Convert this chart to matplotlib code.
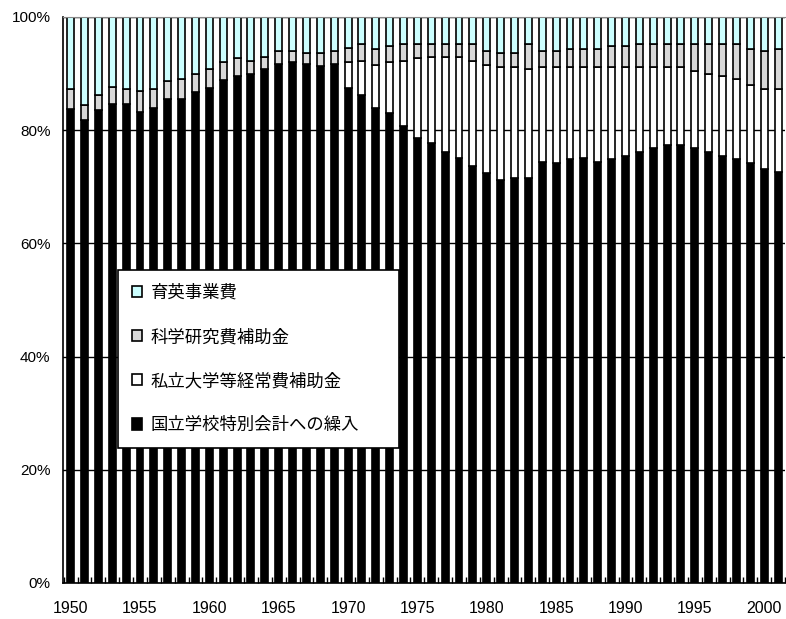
import numpy as np
import matplotlib
matplotlib.use("Agg")
import matplotlib.pyplot as plt
from matplotlib.ticker import FixedLocator

plt.rcParams['font.family'] = ['Liberation Sans', 'Noto Sans CJK JP', 'DejaVu Sans']

years = np.arange(1950, 2002)

# share of each item (%)
kokuritsu = [83.7, 81.8, 83.6, 84.6, 84.6, 83.2, 84.0, 85.6, 85.6, 86.8,
             87.4, 88.9, 89.6, 89.9, 90.9, 91.7, 92.0, 91.7, 91.3, 91.7,
             87.4, 86.3, 83.9, 83.0, 80.8, 78.7, 77.7, 76.2, 75.1, 73.7,
             72.4, 71.2, 71.6, 71.6, 74.4, 74.2, 74.9, 75.1, 74.4, 74.9,
             75.5, 76.2, 76.9, 77.3, 77.3, 76.9, 76.2, 75.5, 74.9, 74.2,
             73.1, 72.7]
shiritsu = [0, 0, 0, 0, 0, 0, 0, 0, 0, 0,
            0, 0, 0, 0, 0, 0, 0, 0, 0, 0,
            4.6, 5.9, 7.6, 9.0, 11.4, 14.0, 15.3, 16.8, 17.9, 18.6,
            19.1, 20.0, 19.6, 19.3, 16.8, 17.0, 16.3, 16.1, 16.8, 16.3,
            15.7, 15.0, 14.3, 13.9, 13.9, 13.6, 13.7, 14.0, 14.1, 13.8,
            14.2, 14.6]
kaken = [3.5, 2.7, 2.6, 3.1, 2.7, 3.8, 3.3, 3.1, 3.4, 3.1,
         3.5, 3.1, 3.1, 2.3, 2.1, 2.3, 2.0, 2.0, 2.4, 2.3,
         2.5, 3.0, 2.8, 2.9, 3.0, 2.5, 2.2, 2.2, 2.2, 2.9,
         2.5, 2.5, 2.5, 4.3, 2.8, 2.8, 3.1, 3.1, 3.1, 3.6,
         3.6, 4.0, 4.0, 4.0, 4.0, 4.7, 5.3, 5.7, 6.2, 6.3,
         6.7, 7.0]
ikuei = [12.8, 15.5, 13.8, 12.3, 12.7, 13.0, 12.7, 11.3, 11.0, 10.1,
         9.1, 8.0, 7.3, 7.8, 7.0, 6.0, 6.0, 6.3, 6.3, 6.0,
         5.5, 4.8, 5.7, 5.1, 4.8, 4.8, 4.8, 4.8, 4.8, 4.8,
         6.0, 6.3, 6.3, 4.8, 6.0, 6.0, 5.7, 5.7, 5.7, 5.2,
         5.2, 4.8, 4.8, 4.8, 4.8, 4.8, 4.8, 4.8, 4.8, 5.7,
         6.0, 5.7]

labels = ['国立学校特別会計への繰入', '私立大学等経常費補助金',
          '科学研究費補助金', '育英事業費']
colors = ['black', 'white', '#d8d8d8', '#ccffff']

data = np.array([kokuritsu, shiritsu, kaken, ikuei], dtype=float)
data = data / data.sum(axis=0) * 100

fig = plt.figure(figsize=(7.86, 6.19), dpi=100)
ax = fig.add_axes([63 / 786, 36 / 619, 722 / 786, 566 / 619])

bottom = np.zeros(len(years))
handles = []
for vals, lab, col in zip(data, labels, colors):
    h = ax.bar(years, vals, bottom=bottom, width=0.5, color=col,
               edgecolor='black', linewidth=1.2, label=lab)
    handles.append(h)
    bottom += vals

ax.set_xlim(1949.45, 2001.5)
ax.set_ylim(0, 100)
ax.set_yticks(np.arange(0, 101, 20))
ax.set_yticklabels([f'{v}%' for v in range(0, 101, 20)], fontsize=11)
ax.set_xticks(np.arange(1950, 2001, 5))
ax.set_xticklabels([str(y) for y in range(1950, 2001, 5)], fontsize=11.5)
ax.xaxis.set_minor_locator(FixedLocator(np.arange(1949.5, 2002, 1)))
ax.tick_params(axis='x', which='major', length=0, pad=13)
ax.tick_params(axis='x', which='minor', length=4, direction='in', width=1)
ax.tick_params(axis='y', length=0, pad=9)

ax.yaxis.grid(True, color='black', linewidth=1)
ax.set_axisbelow(True)
for s in ['left', 'bottom']:
    ax.spines[s].set_color('black')
    ax.spines[s].set_linewidth(1.2)
ax.spines['top'].set_color('#888888')
ax.spines['right'].set_visible(False)

leg = ax.legend(handles[::-1], labels[::-1], loc='lower left',
                bbox_to_anchor=(0.076, 0.2385, 0.39, 0.31), mode='expand',
                prop={'family': 'Noto Sans CJK JP', 'size': 12.5},
                frameon=True, fancybox=False, edgecolor='black', framealpha=1,
                handlelength=0.6, handleheight=0.6, handletextpad=0.5,
                labelspacing=1.5, borderpad=0.8, borderaxespad=0)
leg.get_frame().set_linewidth(1.2)

fig.savefig('out.png', dpi=100)
